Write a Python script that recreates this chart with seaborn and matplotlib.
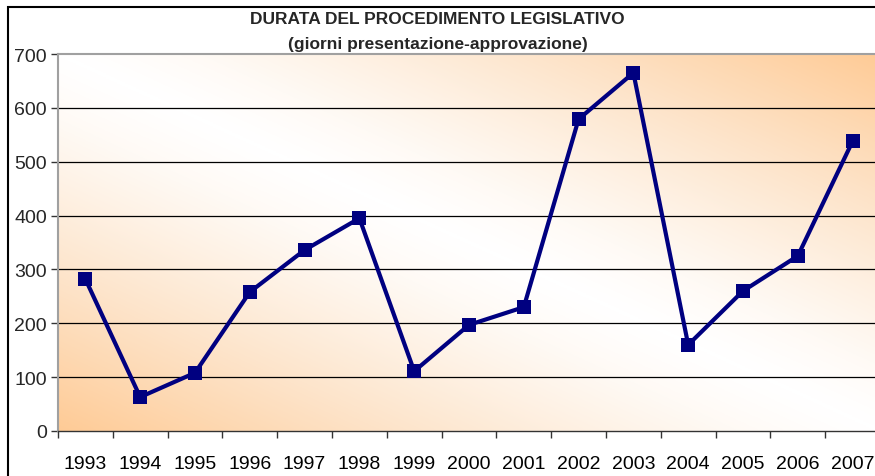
import numpy as np
import pandas as pd
import matplotlib
matplotlib.use("Agg")
import matplotlib.pyplot as plt
from matplotlib.colors import LinearSegmentedColormap
from matplotlib.patches import Rectangle
import seaborn as sns

# dati
anni = ["1993", "1994", "1995", "1996", "1997", "1998", "1999", "2000",
        "2001", "2002", "2003", "2004", "2005", "2006", "2007"]
giorni = [282, 63, 108, 258, 336, 395, 111, 197, 230, 579, 665, 160, 260, 325, 538]
y_ticks = [0, 100, 200, 300, 400, 500, 600, 700]

df = pd.DataFrame({"anno": anni, "giorni": giorni})

sns.set_theme(style="white")
plt.rcParams["font.family"] = ["Liberation Sans", "DejaVu Sans"]

fig = plt.figure(figsize=(8.75, 4.77), dpi=100)
ax = fig.add_axes([58 / 875, 1 - 432 / 477, 822 / 875, 377 / 477])

# sfondo sfumato arancio -> bianco -> arancio in diagonale
u, v = np.meshgrid(np.linspace(0, 1, 300), np.linspace(0, 1, 300))
t = np.abs(u + v - 1.0) ** 1.2
cmap = LinearSegmentedColormap.from_list(
    "sfondo", [(0, "#ffffff"), (0.12, "#fffaf5"), (0.55, "#fde3c8"), (1, "#ffcb96")])
ax.imshow(t, cmap=cmap, extent=[0, 1, 0, 1], transform=ax.transAxes,
          origin="lower", aspect="auto", zorder=0, vmin=0, vmax=1)

for yv in y_ticks[1:-1]:
    ax.axhline(yv, color="black", lw=0.9, zorder=1)

sns.lineplot(data=df, x="anno", y="giorni", ax=ax, color="#000080",
             lw=3, marker="s", markersize=10, markeredgewidth=0, zorder=3)

ax.set_xlim(-0.5, len(anni) - 0.5)
ax.set_ylim(0, 700)
ax.set_yticks(y_ticks)
ax.set_xticks(range(len(anni)))
ax.set_xticklabels(anni)
ax.set_xticks(np.arange(-0.5, len(anni)), minor=True)
ax.tick_params(axis="x", which="major", length=0, pad=17, labelsize=14, colors="black")
ax.tick_params(axis="x", which="minor", length=5, width=1, color="#333333", direction="out", bottom=True)
ax.tick_params(axis="y", length=5, width=1, color="#333333", direction="out", left=True,
               labelsize=14, pad=3)
ax.set_xlabel("")
ax.set_ylabel("")

for s in ["top", "left"]:
    ax.spines[s].set_color("#a0a0a0")
    ax.spines[s].set_linewidth(1.5)
ax.spines["bottom"].set_color("#333333")
ax.spines["bottom"].set_linewidth(1)
ax.spines["right"].set_visible(False)

fig.text(0.5, 1 - 20 / 477, "DURATA DEL PROCEDIMENTO LEGISLATIVO", ha="center", va="center",
         fontsize=12.5, fontweight="bold")
fig.text(0.5, 1 - 44 / 477, "(giorni presentazione-approvazione)", ha="center", va="center",
         fontsize=12.5, fontweight="bold")

# cornice del grafico
fig.patches.append(Rectangle((8 / 875, -0.1), 1.2, 1.1 - 8 / 477, transform=fig.transFigure,
                             fill=False, edgecolor="black", lw=1.5))

fig.savefig("out.png", dpi=100)
